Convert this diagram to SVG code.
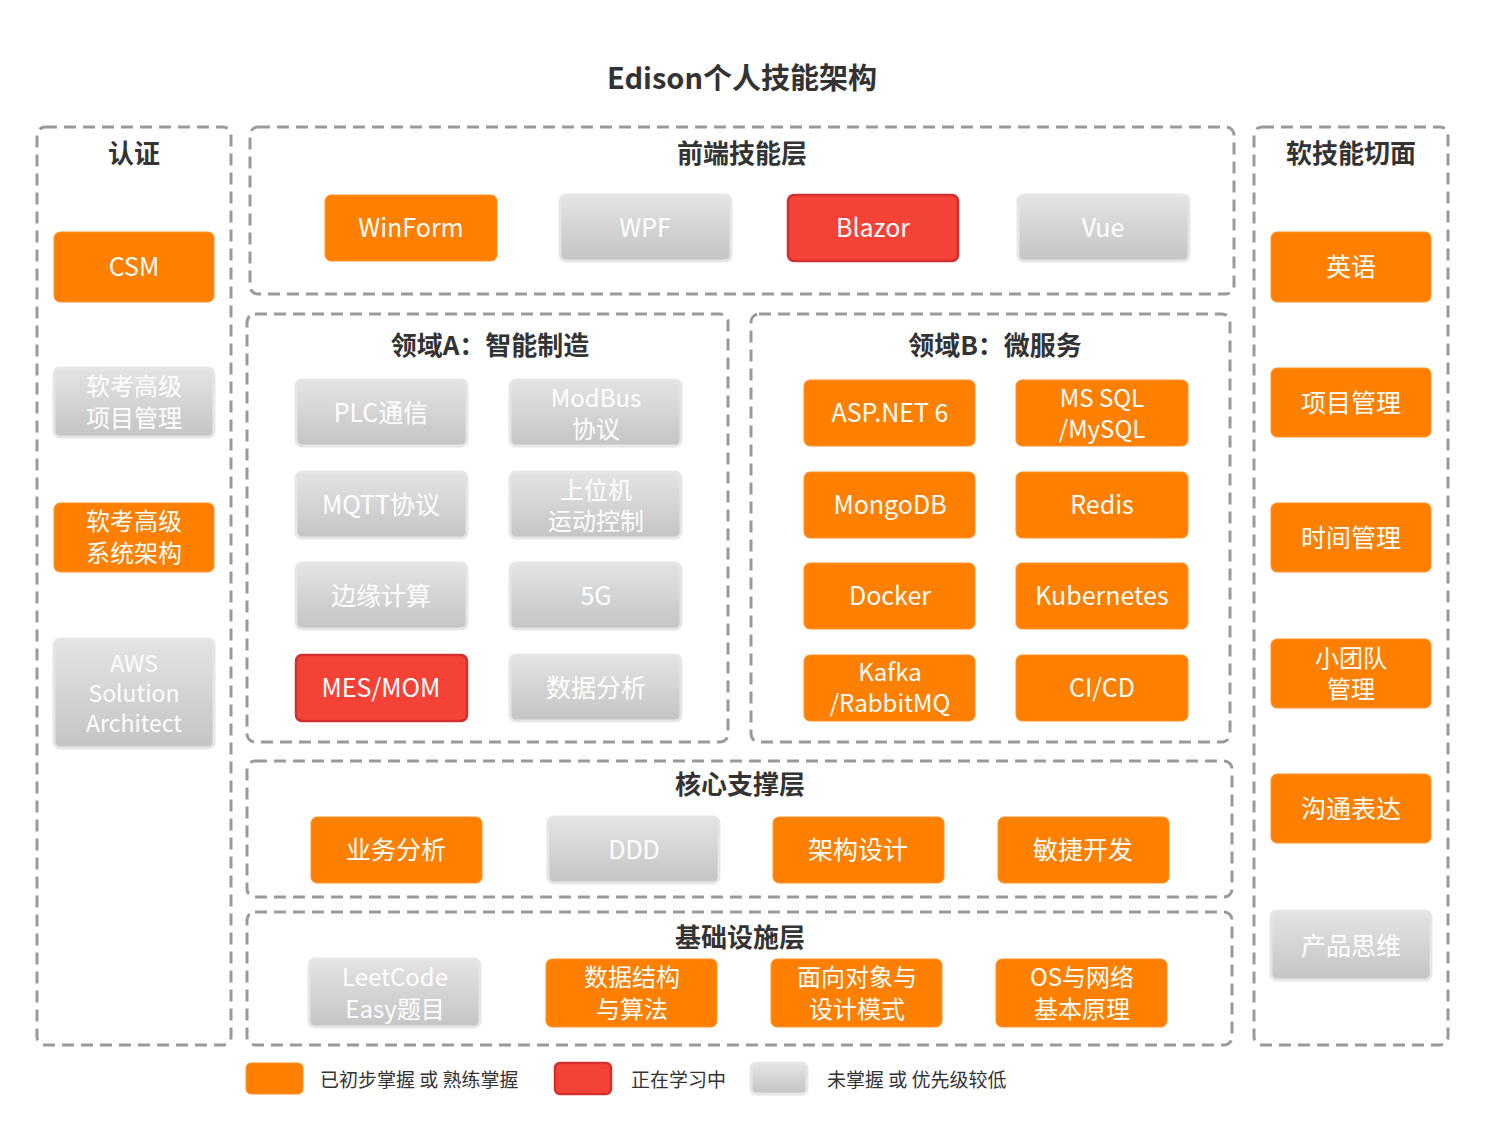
<svg xmlns="http://www.w3.org/2000/svg" width="1485" height="1131" viewBox="0 0 1485 1131">
<style>
text{font-family:"Noto Sans CJK SC","Noto Sans",sans-serif;transform:translateY(-2px)}
.c{fill:none;stroke:#999a9c;stroke-width:3;stroke-dasharray:12 7}
.o{fill:#ff8000;stroke:#ff9326;stroke-width:1}
.r{fill:#f44336;stroke:#d32f2f;stroke-width:2.5}
.g{fill:url(#gg);stroke:#e6e6e6;stroke-width:3}
.t{fill:#fff;font-size:25px;text-anchor:middle;dominant-baseline:central}
.t2{font-size:24px}
.h{fill:#333;font-size:26px;font-weight:bold;text-anchor:middle;dominant-baseline:central}
.l{fill:#333;font-size:19px;dominant-baseline:central}
</style>
<defs>
<linearGradient id="gg" x1="0" y1="0" x2="0" y2="1">
<stop offset="0" stop-color="#e4e4e4"/>
<stop offset="1" stop-color="#c4c4c4"/>
</linearGradient>
</defs>
<rect width="1485" height="1131" fill="#fff"/>
<text x="742" y="78" class="h" style="font-size:29px">Edison个人技能架构</text>

<g id="containers">
<g id="grp-cert"><rect class="c" x="37" y="127" width="194" height="918" rx="8"/><text x="134" y="153" class="h">认证</text></g>
<g id="grp-front"><rect class="c" x="250" y="127" width="984" height="167" rx="8"/><text x="742" y="153" class="h">前端技能层</text></g>
<g id="grp-a"><rect class="c" x="247" y="314" width="481" height="428" rx="8"/><text x="490" y="345" class="h">领域A：智能制造</text></g>
<g id="grp-b"><rect class="c" x="751" y="314" width="479" height="428" rx="8"/><text x="995" y="345" class="h">领域B：微服务</text></g>
<g id="grp-core"><rect class="c" x="247" y="761" width="985" height="136" rx="8"/><text x="740" y="784" class="h">核心支撑层</text></g>
<g id="grp-infra"><rect class="c" x="247" y="912" width="985" height="133" rx="8"/><text x="740" y="937" class="h">基础设施层</text></g>
<g id="grp-soft"><rect class="c" x="1254" y="127" width="194" height="918" rx="8"/><text x="1351" y="153" class="h">软技能切面</text></g>
</g>

<g id="connectors"></g>

<g id="n-csm"><rect class="o" x="54" y="232" width="160" height="70" rx="6"/><text class="t" x="134" y="267">CSM</text></g>
<g id="n-pm-cert"><rect class="g" x="54" y="368" width="160" height="69" rx="6"/><text class="t t2" x="134" y="386">软考高级</text><text class="t t2" x="134" y="418">项目管理</text></g>
<g id="n-sa-cert"><rect class="o" x="54" y="503" width="160" height="69" rx="6"/><text class="t t2" x="134" y="521">软考高级</text><text class="t t2" x="134" y="553">系统架构</text></g>
<g id="n-aws"><rect class="g" x="54" y="639" width="160" height="109" rx="6"/><text class="t" x="134" y="664" style="font-size:23px">AWS</text><text class="t" x="134" y="694" style="font-size:23px">Solution</text><text class="t" x="134" y="724" style="font-size:23px">Architect</text></g>

<g id="n-winform"><rect class="o" x="325" y="195" width="172" height="66" rx="6"/><text class="t" x="411" y="228">WinForm</text></g>
<g id="n-wpf"><rect class="g" x="560" y="195" width="171" height="66" rx="6"/><text class="t" x="645" y="228">WPF</text></g>
<g id="n-blazor"><rect class="r" x="788" y="195" width="170" height="66" rx="6"/><text class="t" x="873" y="228">Blazor</text></g>
<g id="n-vue"><rect class="g" x="1018" y="195" width="171" height="66" rx="6"/><text class="t" x="1103" y="228">Vue</text></g>

<g id="n-plc"><rect class="g" x="296" y="380" width="171" height="66" rx="6"/><text class="t" x="381" y="413">PLC通信</text></g>
<g id="n-modbus"><rect class="g" x="510" y="380" width="171" height="66" rx="6"/><text class="t t2" x="596" y="398">ModBus</text><text class="t t2" x="596" y="429">协议</text></g>
<g id="n-mqtt"><rect class="g" x="296" y="472" width="171" height="66" rx="6"/><text class="t" x="381" y="505">MQTT协议</text></g>
<g id="n-motion"><rect class="g" x="510" y="472" width="171" height="66" rx="6"/><text class="t t2" x="596" y="490">上位机</text><text class="t t2" x="596" y="521">运动控制</text></g>
<g id="n-edge"><rect class="g" x="296" y="563" width="171" height="66" rx="6"/><text class="t" x="381" y="596">边缘计算</text></g>
<g id="n-5g"><rect class="g" x="510" y="563" width="171" height="66" rx="6"/><text class="t" x="596" y="596">5G</text></g>
<g id="n-mes"><rect class="r" x="296" y="655" width="171" height="66" rx="6"/><text class="t" x="381" y="688">MES/MOM</text></g>
<g id="n-da"><rect class="g" x="510" y="655" width="171" height="66" rx="6"/><text class="t" x="596" y="688">数据分析</text></g>

<g id="n-aspnet"><rect class="o" x="804" y="380" width="171" height="66" rx="6"/><text class="t" x="890" y="413">ASP.NET 6</text></g>
<g id="n-sql"><rect class="o" x="1016" y="380" width="172" height="66" rx="6"/><text class="t t2" x="1102" y="398">MS SQL</text><text class="t t2" x="1102" y="429">/MySQL</text></g>
<g id="n-mongo"><rect class="o" x="804" y="472" width="171" height="66" rx="6"/><text class="t" x="890" y="505">MongoDB</text></g>
<g id="n-redis"><rect class="o" x="1016" y="472" width="172" height="66" rx="6"/><text class="t" x="1102" y="505">Redis</text></g>
<g id="n-docker"><rect class="o" x="804" y="563" width="171" height="66" rx="6"/><text class="t" x="890" y="596">Docker</text></g>
<g id="n-k8s"><rect class="o" x="1016" y="563" width="172" height="66" rx="6"/><text class="t" x="1102" y="596">Kubernetes</text></g>
<g id="n-kafka"><rect class="o" x="804" y="655" width="171" height="66" rx="6"/><text class="t t2" x="890" y="672">Kafka</text><text class="t t2" x="890" y="703">/RabbitMQ</text></g>
<g id="n-cicd"><rect class="o" x="1016" y="655" width="172" height="66" rx="6"/><text class="t" x="1102" y="688">CI/CD</text></g>

<g id="n-ba"><rect class="o" x="311" y="817" width="171" height="66" rx="6"/><text class="t" x="396" y="850">业务分析</text></g>
<g id="n-ddd"><rect class="g" x="548" y="817" width="171" height="66" rx="6"/><text class="t" x="634" y="850">DDD</text></g>
<g id="n-arch"><rect class="o" x="773" y="817" width="171" height="66" rx="6"/><text class="t" x="858" y="850">架构设计</text></g>
<g id="n-agile"><rect class="o" x="998" y="817" width="171" height="66" rx="6"/><text class="t" x="1083" y="850">敏捷开发</text></g>

<g id="n-leet"><rect class="g" x="309" y="959" width="171" height="68" rx="6"/><text class="t t2" x="395" y="977">LeetCode</text><text class="t t2" x="395" y="1009">Easy题目</text></g>
<g id="n-dsa"><rect class="o" x="546" y="959" width="171" height="68" rx="6"/><text class="t t2" x="632" y="977">数据结构</text><text class="t t2" x="632" y="1009">与算法</text></g>
<g id="n-oop"><rect class="o" x="771" y="959" width="171" height="68" rx="6"/><text class="t t2" x="857" y="977">面向对象与</text><text class="t t2" x="857" y="1009">设计模式</text></g>
<g id="n-os"><rect class="o" x="996" y="959" width="171" height="68" rx="6"/><text class="t t2" x="1082" y="977">OS与网络</text><text class="t t2" x="1082" y="1009">基本原理</text></g>

<g id="n-en"><rect class="o" x="1271" y="232" width="160" height="70" rx="6"/><text class="t" x="1351" y="267">英语</text></g>
<g id="n-pm"><rect class="o" x="1271" y="368" width="160" height="69" rx="6"/><text class="t" x="1351" y="403">项目管理</text></g>
<g id="n-tm"><rect class="o" x="1271" y="503" width="160" height="69" rx="6"/><text class="t" x="1351" y="538">时间管理</text></g>
<g id="n-team"><rect class="o" x="1271" y="639" width="160" height="69" rx="6"/><text class="t t2" x="1351" y="658">小团队</text><text class="t t2" x="1351" y="689">管理</text></g>
<g id="n-comm"><rect class="o" x="1271" y="774" width="160" height="69" rx="6"/><text class="t" x="1351" y="809">沟通表达</text></g>
<g id="n-prod"><rect class="g" x="1271" y="911" width="160" height="69" rx="6"/><text class="t" x="1351" y="946">产品思维</text></g>

<g id="legend">
<rect class="o" x="246" y="1063" width="57" height="31" rx="5"/><text class="l" x="320" y="1080">已初步掌握 或 熟练掌握</text>
<rect class="r" x="555" y="1063" width="56" height="31" rx="5"/><text class="l" x="631" y="1080">正在学习中</text>
<rect class="g" x="751" y="1063" width="56" height="31" rx="5"/><text class="l" x="827" y="1080">未掌握 或 优先级较低</text>
</g>
</svg>
